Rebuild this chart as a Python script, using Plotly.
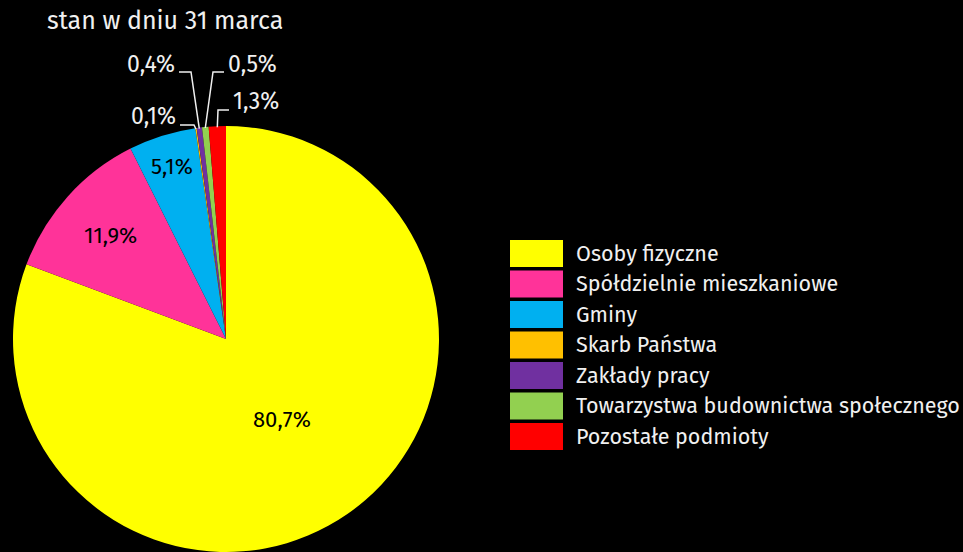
import math
import plotly.graph_objects as go

categories = ["Osoby fizyczne", "Spółdzielnie mieszkaniowe", "Gminy", "Skarb Państwa",
              "Zakłady pracy", "Towarzystwa budownictwa społecznego", "Pozostałe podmioty"]
values = [80.7, 11.9, 5.1, 0.1, 0.4, 0.5, 1.3]
value_labels = ["80,7%", "11,9%", "5,1%", "0,1%", "0,4%", "0,5%", "1,3%"]
colors = ["#FFFF00", "#FF3399", "#00B0F0", "#FFC000", "#7030A0", "#92D050", "#FF0000"]
subtitle = "stan w dniu 31 marca"

W, H = 963, 552
FONT = "Fira Sans, Open Sans, Noto Sans, sans-serif"
TXT = "#F0F0F0"

# pie placement (pixels)
CX, CY, R = 226, 339, 213
dom_x = [(CX - R) / W, (CX + R) / W]
dom_y = [max(0, 1 - (CY + R) / H), 1 - (CY - R) / H]

def px(x, y):
    return x / W, 1 - y / H

total = sum(values)
cum = []
c = 0
for v in values:
    cum.append((c, c + v))
    c += v

def slice_point(i, frac_r):
    a0, a1 = cum[i]
    th = 2 * math.pi * ((a0 + a1) / 2) / total
    return CX + frac_r * R * math.sin(th), CY - frac_r * R * math.cos(th)

fig = go.Figure(go.Pie(
    labels=categories, values=values, sort=False, direction="clockwise", rotation=0,
    marker=dict(colors=colors, line=dict(width=0)), textinfo="none",
    domain=dict(x=dom_x, y=dom_y), showlegend=False, hoverinfo="label+percent",
))

annotations = []
shapes = []

# inside labels for big slices
inside_r = {0: 0.46, 1: 0.73, 2: 0.85}
for i, fr in inside_r.items():
    x, y = slice_point(i, fr)
    xp, yp = px(x, y)
    annotations.append(dict(x=xp, y=yp, xref="paper", yref="paper", text=value_labels[i],
                            xanchor="center", yanchor="middle", showarrow=False,
                            font=dict(family=FONT, size=22, color="#000000")))

# outside labels with elbow leader lines (layout positions in px)
outside = {
    3: dict(tx=178, ty=116, anchor="right", elbow=[(180, 125), (194, 125)]),
    4: dict(tx=177, ty=64, anchor="right", elbow=[(179, 72), (191, 72)]),
    5: dict(tx=226, ty=64, anchor="left", elbow=[(224, 72), (213, 72)]),
    6: dict(tx=231, ty=101, anchor="left", elbow=[(229, 110), (218, 110)]),
}
for i, o in outside.items():
    xp, yp = px(o["tx"], o["ty"])
    annotations.append(dict(x=xp, y=yp, xref="paper", yref="paper", text=value_labels[i],
                            xanchor=o["anchor"], yanchor="middle", showarrow=False,
                            font=dict(family=FONT, size=23, color=TXT)))
    ex, ey = slice_point(i, 1.0)
    pts = o["elbow"] + [(ex, ey + 1)]
    path = ""
    for k, (x, y) in enumerate(pts):
        a, b = px(x, y)
        path += ("M" if k == 0 else "L") + f"{a:.5f},{b:.5f} "
    shapes.append(dict(type="path", xref="paper", yref="paper", path=path.strip(),
                       line=dict(color=TXT, width=1.5)))

# custom legend
LX0, LX1, LY0, LH, LSTEP = 510, 563, 240, 27, 30.5
for i, (cat, col) in enumerate(zip(categories, colors)):
    y0 = LY0 + i * LSTEP
    x0p, y0p = px(LX0, y0)
    x1p, y1p = px(LX1, y0 + LH)
    shapes.append(dict(type="rect", xref="paper", yref="paper", x0=x0p, x1=x1p, y0=y1p, y1=y0p,
                       fillcolor=col, line=dict(width=0)))
    tx, ty = px(574, y0 + LH / 2)
    annotations.append(dict(x=tx, y=ty, xref="paper", yref="paper", text=cat,
                            xanchor="left", yanchor="middle", showarrow=False,
                            font=dict(family=FONT, size=21.5, color=TXT)))

# subtitle
sx, sy = px(165, 21)
annotations.append(dict(x=sx, y=sy, xref="paper", yref="paper", text=subtitle,
                        xanchor="center", yanchor="middle", showarrow=False,
                        font=dict(family=FONT, size=25, color=TXT)))

fig.update_layout(
    width=W, height=H, margin=dict(l=0, r=0, t=0, b=0),
    paper_bgcolor="#000000", plot_bgcolor="#000000",
    annotations=annotations, shapes=shapes, showlegend=False,
)
fig.write_html("out.html", config={"displayModeBar": False},
               post_script="document.body.style.margin='0';document.body.style.background='#000';")
